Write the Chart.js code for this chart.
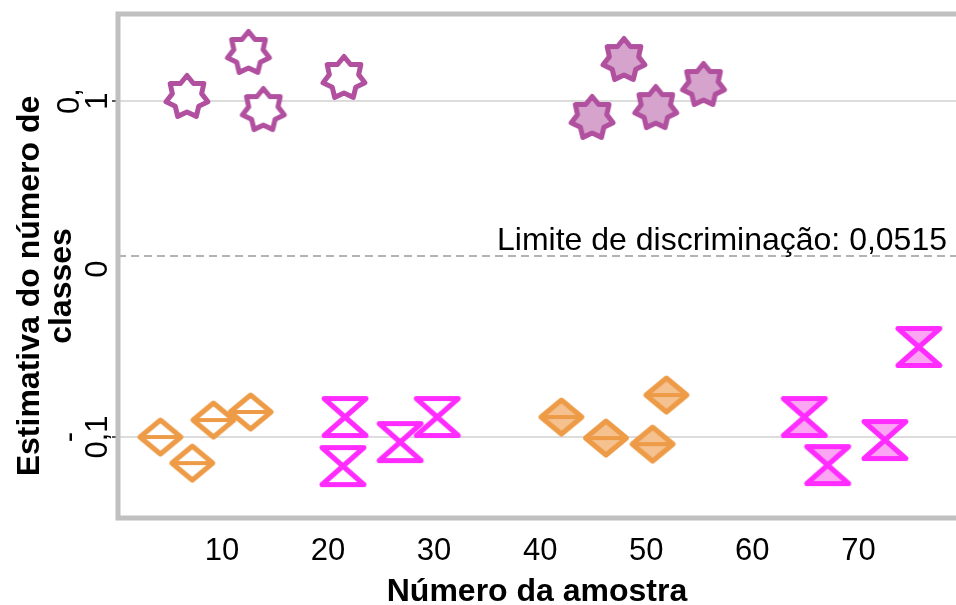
<!DOCTYPE html>
<html>
<head>
<meta charset="utf-8">
<script src="https://cdn.jsdelivr.net/npm/chart.js@4/dist/chart.umd.min.js"></script>
<style>
  html, body { margin: 0; padding: 0; background: #fff; }
  #wrap { width: 956px; height: 605px; }
</style>
</head>
<body>
<div id="wrap"><canvas id="chart" width="956" height="605"></canvas></div>
<script>
// data (x = sample number, y = estimate)
const starOpenX = [6.7, 12.5, 13.9, 21.5];
const starOpenY = [0.1030, 0.1292, 0.0952, 0.1143];
const starFillX = [44.9, 47.9, 50.9, 55.4];
const starFillY = [0.0905, 0.1250, 0.0964, 0.1101];

const diamOpenX = [4.2, 7.2, 9.2, 12.7];
const diamOpenY = [-0.1000, -0.1155, -0.0899, -0.0851];
const diamFillX = [42.0, 46.2, 50.6, 51.9];
const diamFillY = [-0.0881, -0.1006, -0.1042, -0.0750];

const hourOpenX = [21.6, 21.4, 26.8, 30.3];
const hourOpenY = [-0.0881, -0.1173, -0.1030, -0.0881];
const hourFillX = [64.9, 67.1, 72.5, 75.7];
const hourFillY = [-0.0881, -0.1167, -0.1018, -0.0464];

const xTicks = [10, 20, 30, 40, 50, 60, 70];
const yTicks = [0.1, 0, -0.1];
const yTickLabels = [['0,', '1'], ['0'], ['-', '0,1']];
const limitValue = 0.0077;
const limitLabel = 'Limite de discriminação: 0,0515';
const xTitle = 'Número da amostra';
const yTitle = ['Estimativa do número de', 'classes'];

const FONT = "'Liberation Sans', Arial, sans-serif";

// marker images
function makeMarker(kind, stroke, fill) {
  const c = document.createElement('canvas');
  c.width = 56; c.height = 56;
  const g = c.getContext('2d');
  g.translate(28, 28);
  g.lineWidth = 5;
  g.lineJoin = 'round';
  g.strokeStyle = stroke;
  g.fillStyle = fill;
  g.beginPath();
  if (kind === 'star') {
    for (let i = 0; i < 14; i++) {
      const a = -Math.PI / 2 + i * Math.PI / 7;
      const r = i % 2 ? 15 : 21.5;
      const px = r * Math.cos(a), py = r * Math.sin(a) + 1;
      if (i === 0) g.moveTo(px, py); else g.lineTo(px, py);
    }
    g.closePath();
    g.fill();
    g.stroke();
  } else if (kind === 'diamond') {
    g.moveTo(0, -17); g.lineTo(20.5, 0); g.lineTo(0, 17); g.lineTo(-20.5, 0);
    g.closePath();
    g.fill();
    g.stroke();
    g.beginPath();
    g.lineWidth = 4;
    g.moveTo(-20.5, 0); g.lineTo(20.5, 0);
    g.stroke();
  } else {
    g.moveTo(-21, -18.5); g.lineTo(21, -18.5); g.lineTo(-21, 18.5); g.lineTo(21, 18.5);
    g.closePath();
    g.fill();
    g.stroke();
  }
  return c;
}

const starStroke = '#B0509F', starFill = '#D5A3CC';
const diamStroke = '#EE9B47', diamFill = '#F4C18F';
const hourStroke = '#FF2BFF', hourFill = '#FBA6F2';

function pts(xs, ys) { return xs.map((x, i) => ({ x: x, y: ys[i] })); }

function ds(label, xs, ys, img) {
  return { label: label, data: pts(xs, ys), pointStyle: img, pointRadius: 22, pointHoverRadius: 22, showLine: false };
}

// frame, limit line, y tick labels and y title
const decor = {
  id: 'decor',
  beforeDatasetsDraw(chart) {
    const { ctx, chartArea, scales } = chart;
    const y = scales.y.getPixelForValue(limitValue);
    ctx.save();
    ctx.strokeStyle = '#9a9a9a';
    ctx.lineWidth = 1.5;
    ctx.setLineDash([8, 5]);
    ctx.beginPath();
    ctx.moveTo(chartArea.left, y);
    ctx.lineTo(chartArea.right, y);
    ctx.stroke();
    ctx.setLineDash([]);
    ctx.fillStyle = '#000';
    ctx.font = '32px ' + FONT;
    ctx.textAlign = 'right';
    ctx.textBaseline = 'alphabetic';
    ctx.fillText(limitLabel, 947, y - 6);

    // frame: left, top, bottom
    ctx.strokeStyle = '#c0c0c0';
    ctx.lineWidth = 5;
    ctx.beginPath();
    ctx.moveTo(chartArea.right + 5, chartArea.top);
    ctx.lineTo(chartArea.left, chartArea.top);
    ctx.lineTo(chartArea.left, chartArea.bottom);
    ctx.lineTo(chartArea.right + 5, chartArea.bottom);
    ctx.stroke();

    // rotated y tick labels
    ctx.font = '31px ' + FONT;
    ctx.textAlign = 'center';
    ctx.textBaseline = 'middle';
    yTicks.forEach((v, i) => {
      const py = scales.y.getPixelForValue(v);
      const lines = yTickLabels[i];
      lines.forEach((t, j) => {
        const px = 98 - 28 * (lines.length - 1 - j);
        ctx.save();
        ctx.translate(px, py);
        ctx.rotate(-Math.PI / 2);
        ctx.fillText(t, 0, 0);
        ctx.restore();
      });
    });

    // y title
    ctx.font = 'bold 32px ' + FONT;
    yTitle.forEach((t, j) => {
      ctx.save();
      ctx.translate(30 + 32 * j, 286);
      ctx.rotate(-Math.PI / 2);
      ctx.fillText(t, 0, 0);
      ctx.restore();
    });
    ctx.restore();
  }
};

const chart = new Chart(document.getElementById('chart'), {
  type: 'scatter',
  data: {
    datasets: [
      ds('star open', starOpenX, starOpenY, makeMarker('star', starStroke, '#ffffff')),
      ds('star filled', starFillX, starFillY, makeMarker('star', starStroke, starFill)),
      ds('diamond open', diamOpenX, diamOpenY, makeMarker('diamond', diamStroke, '#ffffff')),
      ds('diamond filled', diamFillX, diamFillY, makeMarker('diamond', diamStroke, diamFill)),
      ds('hourglass open', hourOpenX, hourOpenY, makeMarker('hourglass', hourStroke, '#ffffff')),
      ds('hourglass filled', hourFillX, hourFillY, makeMarker('hourglass', hourStroke, hourFill))
    ]
  },
  options: {
    responsive: false,
    animation: false,
    devicePixelRatio: 1,
    layout: { autoPadding: false, padding: { top: 14, left: 0, right: 0, bottom: 0 } },
    plugins: { legend: { display: false }, tooltip: { enabled: false } },
    scales: {
      x: {
        type: 'linear',
        min: 0.2,
        max: 79.2,
        afterBuildTicks: s => { s.ticks = xTicks.map(v => ({ value: v })); },
        afterFit: s => { s.height = 87; s.paddingLeft = 0; s.paddingRight = 0; },
        grid: { display: false },
        border: { display: false },
        ticks: { color: '#000', font: { family: FONT, size: 31 }, padding: 7 },
        title: { display: true, text: xTitle, color: '#000', font: { family: FONT, size: 32, weight: 'bold', lineHeight: 0.8 }, padding: 0 }
      },
      y: {
        type: 'linear',
        min: -0.1482,
        max: 0.1518,
        afterBuildTicks: s => { s.ticks = yTicks.map(v => ({ value: v })); },
        afterFit: s => { s.width = 118; s.paddingTop = 0; s.paddingBottom = 0; },
        border: { display: false },
        grid: {
          color: c => c.tick && c.tick.value === 0 ? 'rgba(0,0,0,0)' : '#dcdcdc',
          lineWidth: 2,
          tickLength: 6,
          tickColor: c => c.tick && c.tick.value === 0 ? 'rgba(0,0,0,0)' : '#555',
          tickWidth: 2
        },
        ticks: { display: false }
      }
    }
  },
  plugins: [decor]
});
</script>
</body>
</html>
